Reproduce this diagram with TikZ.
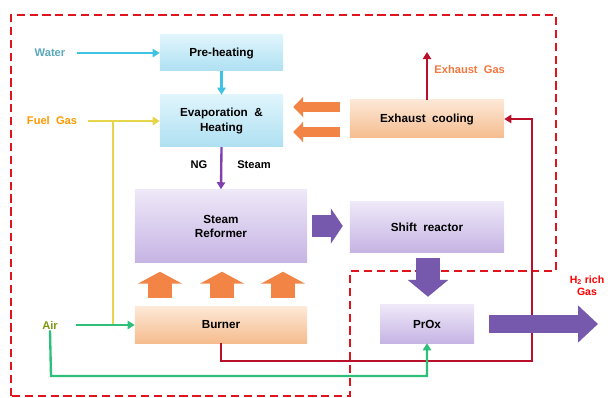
\documentclass[tikz,border=0pt]{standalone}
\usepackage{fontspec}
\setsansfont{Liberation Sans}
\usetikzlibrary{arrows.meta,calc}
\definecolor{blueTop}{HTML}{E0F5FC}
\definecolor{blueBot}{HTML}{AEE0F2}
\definecolor{purpTop}{HTML}{EEE8F8}
\definecolor{purpBot}{HTML}{C6B4E4}
\definecolor{orTop}{HTML}{FDE8D6}
\definecolor{orBot}{HTML}{F5BC8E}
\definecolor{waterc}{HTML}{3EC3E3}
\definecolor{fuelc}{HTML}{E6D44A}
\definecolor{airc}{HTML}{2EC07A}
\definecolor{ngc}{HTML}{8040B0}
\definecolor{exc}{HTML}{B8102A}
\definecolor{boundc}{HTML}{E0141C}
\definecolor{heatc}{HTML}{F28446}
\definecolor{gasc}{HTML}{7658AC}
\tikzstyle{box}=[inner sep=0pt, align=center, font=\sffamily\bfseries\fontsize{10}{12}\selectfont]
\tikzstyle{bluebox}=[box, top color=blueTop, bottom color=blueBot]
\tikzstyle{purpbox}=[box, top color=purpTop, bottom color=purpBot]
\tikzstyle{orbox}=[box, top color=orTop, bottom color=orBot]
\tikzstyle{label}=[font=\sffamily\bfseries\fontsize{9.5}{11}\selectfont, inner sep=1pt, align=center]
\tikzstyle{flow}=[line width=2pt, -{Triangle[length=6pt,width=7pt]}]
\tikzstyle{pipe}=[line width=2pt]
\tikzstyle{heatside}=[draw=heatc, line width=0.3cm, -{Triangle[length=0.3cm,width=0.6cm]}]
\tikzstyle{heatup}=[draw=heatc, line width=0.72cm, -{Triangle[length=0.36cm,width=1.32cm]}]
\tikzstyle{gasright}=[draw=gasc, line width=0.66cm, -{Triangle[length=0.36cm,width=1.05cm]}]
\tikzstyle{gasdown}=[draw=gasc, line width=0.72cm, -{Triangle[length=0.51cm,width=1.2cm]}]
\tikzstyle{gasout}=[draw=gasc, line width=0.51cm, -{Triangle[length=0.6cm,width=1.08cm]}]

\begin{document}
\begin{tikzpicture}[x=0.03cm, y=-0.03cm]
    \useasboundingbox (0,0) rectangle (608,398);

    % boundary of the system
    \draw[boundc, line width=2.5pt, dash pattern=on 7pt off 4pt]
        (11,396) -- (11,15) -- (556,15) -- (556,271) -- (350,271) -- (350,396) -- cycle;

    % process units
    \node[bluebox, minimum width=3.69cm, minimum height=1.08cm] (preheat) at (221.5,53) {Pre-heating};
    \node[bluebox, minimum width=3.69cm, minimum height=1.56cm] (evap) at (221.5,121) {Evaporation \ \&\\Heating};
    \node[orbox, minimum width=4.62cm, minimum height=1.14cm] (exhaust) at (427,119) {Exhaust \ cooling};
    \node[purpbox, minimum width=5.16cm, minimum height=2.19cm] (reformer) at (221,226) {Steam\\Reformer};
    \node[purpbox, minimum width=4.62cm, minimum height=1.5cm] (shift) at (427,227) {Shift \ reactor};
    \node[orbox, minimum width=5.16cm, minimum height=1.08cm] (burner) at (221,325) {Burner};
    \node[purpbox, minimum width=2.82cm, minimum height=1.14cm] (prox) at (427,324) {PrOx};

    % inputs and outputs
    \node[label, text=waterc!60!gray] (water) at (50,53) {Water};
    \node[label, text=orange!80!yellow] (fuel) at (52,121) {Fuel \ Gas};
    \node[label, text=olive!70!green] (air) at (50,325) {Air};
    \node[label, text=heatc!90!red, anchor=west] (exgas) at (433,70) {Exhaust \ Gas};
    \node[label, text=red, font=\sffamily\bfseries\fontsize{9}{10.5}\selectfont] (h2gas) at (587,286) {H\textsubscript{2} rich\\Gas};
    \node[label] (ng) at (199,165) {NG};
    \node[label] (steam) at (254,165) {Steam};
    \coordinate (exout) at (426,52);
    \coordinate (fjoin) at (113,121);
    \coordinate (redturn) at (532,361);
    \coordinate (airturn) at (51,376);
    \coordinate (h2out) at (598,324);

    % thin flows
    \draw[flow, waterc] ([xshift=9pt]water.east) -- (preheat.west |- water.east);
    \draw[flow, waterc] (preheat.south) -- (evap.north);
    \draw[flow, fuelc] ([xshift=8pt]fuel.east) -- (evap.west);
    \draw[pipe, fuelc] (fjoin) -- (fjoin |- burner.west);
    \draw[flow, airc] ([xshift=14pt]air.east) -- (burner.west);
    \draw[flow, ngc] (evap.south) -- (reformer.north);
    \draw[flow, exc] (burner.south) |- (redturn) |- (exhaust.east);
    \draw[flow, exc] (exhaust.north) -- (exhaust.north |- exout);
    \draw[flow, airc] (air.south) -- (airturn) -| (prox.south);

    % heat and gas block arrows
    \foreach \dy in {-12, 13}
        \draw[heatside] ($(exhaust.west)+(-10,\dy)$) -- ($(evap.east |- exhaust.west)+(10,\dy)$);
    \foreach \dx in {-61, 1, 62}
        \draw[heatup] ($(burner.north)+(\dx,-9)$) -- ($(reformer.south)+(\dx,9)$);
    \draw[gasright] ($(reformer.east)+(5,0)$) -- ($(shift.west |- reformer.east)+(-7,0)$);
    \draw[gasdown] ($(shift.south)+(1,6)$) -- ($(prox.north)+(1,-8)$);
    \draw[gasout] ($(prox.east)+(15,0)$) -- (h2out);

\end{tikzpicture}
\end{document}
